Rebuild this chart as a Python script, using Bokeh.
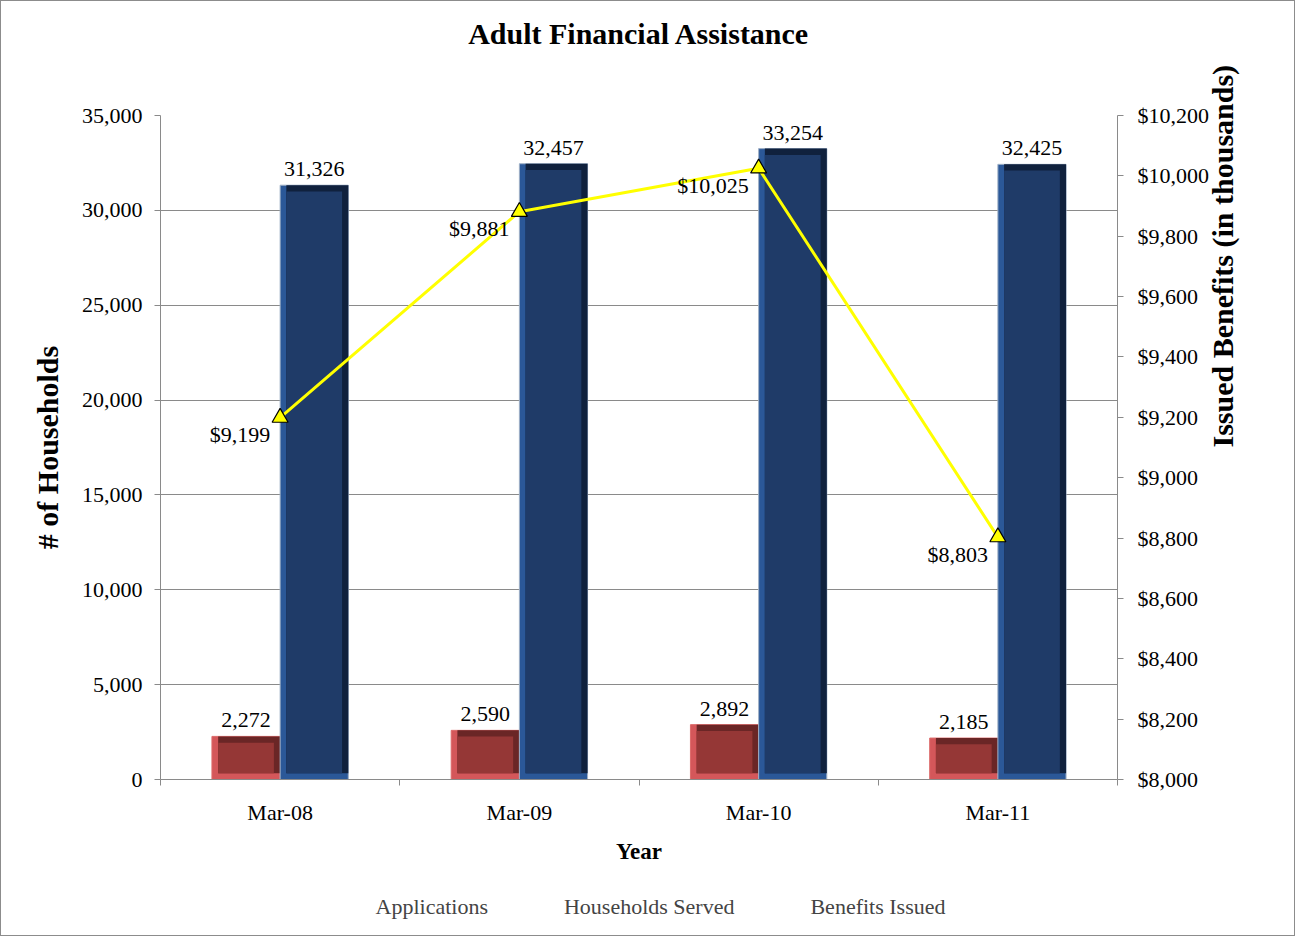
import math
import numpy as np
from bokeh.plotting import figure
from bokeh.layouts import column
from bokeh.models import (ColumnDataSource, Range1d, LinearAxis, FixedTicker,
                          NumeralTickFormatter, LabelSet, Legend, LegendItem)
from bokeh.embed import file_html
from bokeh.resources import INLINE

categories = ["Mar-08", "Mar-09", "Mar-10", "Mar-11"]
applications = [2272, 2590, 2892, 2185]
households = [31326, 32457, 33254, 32425]
benefits = [9199, 9881, 10025, 8803]

FONT = "Liberation Serif"
GRID = "#8a8a8a"
RED = dict(light="#d4575a", dark="#6a2626", face="#953736", edge="#dc6a6a")
BLUE = dict(light="#2b5898", dark="#10213d", face="#1f3b68", edge="#9fb0c6")

n = len(categories)
xc = np.arange(n) + 0.5
w = 0.285
dx = 0.026   # bevel width in x (about 6 px)
dy = 330.0   # bevel height in y (about 6 px)

p = figure(frame_width=957, frame_height=664, output_backend="svg", toolbar_location=None,
           x_range=Range1d(0, n), y_range=Range1d(0, 35000),
           min_border_left=159, min_border_right=177, min_border_top=114,
           min_border_bottom=100)
xa = p.xaxis[0]
ya = p.yaxis[0]
p.title.visible = False
p.outline_line_color = None
p.background_fill_color = "white"
p.border_fill_color = "white"

p.extra_y_ranges = {"ben": Range1d(8000, 10200)}


def bevel_bar(left, right, top, c):
    left = np.asarray(left, float)
    right = np.asarray(right, float)
    top = np.asarray(top, float)
    bottom = np.zeros_like(top)
    src = ColumnDataSource(dict(l=left, r=right, t=top, b=bottom,
                                l2=left + dx, r2=right - dx,
                                t2=top - dy, b2=bottom + dy))
    p.quad(left="l", right="r", top="t", bottom="b", source=src,
           fill_color=c["light"], line_color=c["edge"], line_width=1)
    p.quad(left="l2", right="r", top="t", bottom="b2", source=src,
           fill_color=c["dark"], line_color=None)
    p.quad(left="l2", right="r2", top="t2", bottom="b2", source=src,
           fill_color=c["face"], line_color=None)


bevel_bar(xc - w, xc, applications, RED)
bevel_bar(xc, xc + w, households, BLUE)

line_src = ColumnDataSource(dict(x=xc, y=benefits,
                                 lab=["${:,}".format(v) for v in benefits]))
p.line("x", "y", source=line_src, y_range_name="ben", line_color="#ffff00", line_width=3)
p.scatter("x", "y", source=line_src, y_range_name="ben", marker="triangle",
          size=16, fill_color="#ffff00", line_color="black", line_width=1.2)

red_src = ColumnDataSource(dict(x=xc - w / 2, y=applications,
                                lab=["{:,}".format(v) for v in applications]))
blue_src = ColumnDataSource(dict(x=xc + w / 2, y=households,
                                 lab=["{:,}".format(v) for v in households]))
for s in (red_src, blue_src):
    p.add_layout(LabelSet(x="x", y="y", text="lab", source=s, text_align="center",
                          text_baseline="bottom", y_offset=9, text_font=FONT,
                          text_font_size="22px", text_color="black"))
p.add_layout(LabelSet(x="x", y="y", text="lab", source=line_src, y_range_name="ben",
                      text_align="right", text_baseline="middle", x_offset=-10,
                      y_offset=-17, text_font=FONT, text_font_size="22px",
                      text_color="black"))

# title drawn as the label of an empty axis above the frame
tax = LinearAxis(ticker=FixedTicker(ticks=[]), axis_label="Adult Financial Assistance")
tax.axis_line_color = None
tax.major_tick_in = 0
tax.major_tick_out = 0
tax.major_label_standoff = 0
tax.minor_tick_line_color = None
tax.axis_label_standoff = 66
tax.axis_label_text_font = FONT
tax.axis_label_text_font_size = "30px"
tax.axis_label_text_font_style = "bold"
tax.axis_label_text_color = "black"
p.add_layout(tax, "above")

# x axis: labels at category centres, ticks at category boundaries
xa.ticker = FixedTicker(ticks=list(xc), minor_ticks=list(np.arange(n + 1)))
xa.major_label_overrides = {float(x): c for x, c in zip(xc, categories)}
xa.major_tick_line_color = None
xa.major_tick_in = 0
xa.major_tick_out = 6
xa.minor_tick_in = 0
xa.minor_tick_out = 6
xa.minor_tick_line_color = GRID
xa.axis_label = "Year"
xa.axis_label_text_font_size = "23px"
xa.axis_label_standoff = 11
xa.major_label_standoff = 14

ya.ticker = FixedTicker(ticks=list(range(0, 35001, 5000)))
ya.formatter = NumeralTickFormatter(format="0,0")
ya.axis_label = "# of Households"
ya.axis_label_text_font_size = "30px"
ya.axis_label_standoff = 15
ya.major_label_standoff = 12

ra = LinearAxis(y_range_name="ben", ticker=FixedTicker(ticks=list(range(8000, 10201, 200))),
                formatter=NumeralTickFormatter(format="$0,0"))
ra.axis_label = "Issued Benefits  (in thousands)"
ra.axis_label_text_font_size = "30px"
ra.axis_label_standoff = 10
ra.major_label_standoff = 14
ra.axis_label_orientation = math.pi / 2
p.add_layout(ra, "right")

for ax in (xa, ya, ra):
    ax.axis_line_color = GRID
    ax.major_label_text_font = FONT
    ax.major_label_text_font_size = "22px"
    ax.major_label_text_color = "black"
    ax.axis_label_text_font = FONT
    ax.axis_label_text_font_style = "bold"
    ax.axis_label_text_color = "black"
for ax in (ya, ra):
    ax.major_tick_line_color = GRID
    ax.major_tick_in = 0
    ax.major_tick_out = 6
    ax.minor_tick_line_color = None

p.xgrid.grid_line_color = None
p.ygrid.grid_line_color = GRID
p.ygrid.ticker = FixedTicker(ticks=list(range(0, 35001, 5000)))

# legend strip: a small figure under the chart holding the legend
lg = figure(width=1293, height=56, output_backend="svg", toolbar_location=None,
            x_axis_type=None, y_axis_type=None, x_range=Range1d(0, 1),
            y_range=Range1d(0, 1), min_border=0)
lg.title.visible = False
lg.outline_line_color = None
lg.grid.grid_line_color = None
lg.background_fill_color = "white"
lg.border_fill_color = "white"
empty = dict(l=[], r=[], t=[], b=[])
leg_red = lg.quad(left="l", right="r", top="t", bottom="b", source=ColumnDataSource(empty),
                  fill_color=RED["face"], line_color=RED["light"], line_width=2)
leg_blue = lg.quad(left="l", right="r", top="t", bottom="b", source=ColumnDataSource(empty),
                   fill_color=BLUE["face"], line_color=BLUE["light"], line_width=2)
xy_empty = ColumnDataSource(dict(x=[], y=[]))
leg_line = lg.line("x", "y", source=xy_empty, line_color="#ffff00", line_width=3)
leg_mark = lg.scatter("x", "y", source=xy_empty, marker="triangle", size=16,
                      fill_color="#ffff00", line_color="black", line_width=1.2)

legend = Legend(items=[LegendItem(label="Applications", renderers=[leg_red]),
                       LegendItem(label="Households Served", renderers=[leg_blue]),
                       LegendItem(label="Benefits Issued", renderers=[leg_line, leg_mark])],
                orientation="horizontal", location="center",
                label_text_font=FONT, label_text_font_size="22px",
                glyph_width=42, glyph_height=20, label_standoff=2, spacing=32,
                border_line_color=None, background_fill_alpha=0, margin=0,
                padding=4)
lg.add_layout(legend, "center")

page = column(p, lg, spacing=0)
page.styles = {"border": "1px solid #8c8c8c"}

open("out.html", "w").write(file_html(page, INLINE))
